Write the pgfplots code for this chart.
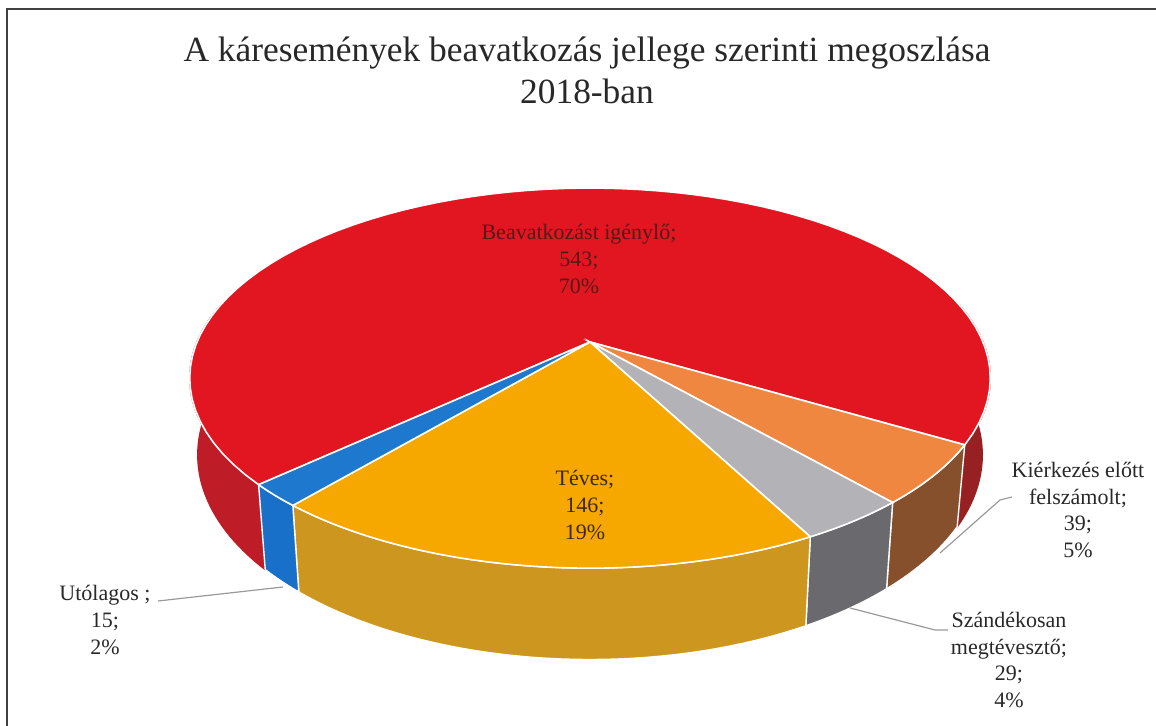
\documentclass[border=0pt]{standalone}
\usepackage{pgfplots}
\pgfplotsset{compat=1.18}
\usepackage{pgfplotstable}
\usepackage{fontspec}
\setmainfont{Liberation Serif}

\definecolor{redtop}{RGB}{226,22,32}
\definecolor{redsideL}{RGB}{190,28,38}
\definecolor{redsideR}{RGB}{150,32,34}
\definecolor{ortop}{RGB}{240,135,65}
\definecolor{orside}{RGB}{135,80,45}
\definecolor{grtop}{RGB}{178,178,183}
\definecolor{grside}{RGB}{105,105,110}
\definecolor{yetop}{RGB}{247,168,0}
\definecolor{yeside}{RGB}{205,150,30}
\definecolor{bltop}{RGB}{30,120,205}
\definecolor{blside}{RGB}{25,112,200}
\definecolor{txtred}{RGB}{85,25,25}
\definecolor{txtye}{RGB}{60,40,15}
\definecolor{txt}{RGB}{40,40,40}

% pie data (clockwise order as drawn)
\pgfplotstableread{
slice value
Beavatkozas 543
Kierkezes 39
Szandekosan 29
Teves 146
Utolagos 15
}\piedata

\pgfplotstablegetelem{0}{value}\of\piedata \edef\vRed{\pgfplotsretval}
\pgfplotstablegetelem{1}{value}\of\piedata \edef\vOr{\pgfplotsretval}
\pgfplotstablegetelem{2}{value}\of\piedata \edef\vGr{\pgfplotsretval}
\pgfplotstablegetelem{3}{value}\of\piedata \edef\vYe{\pgfplotsretval}
\pgfplotstablegetelem{4}{value}\of\piedata \edef\vBl{\pgfplotsretval}
\pgfmathsetmacro\tot{\vRed+\vOr+\vGr+\vYe+\vBl}
\pgfmathsetmacro\aA{30.5}
\pgfmathsetmacro\aB{\aA+360*(\vOr/\tot)}
\pgfmathsetmacro\aC{\aB+360*(\vGr/\tot)}
\pgfmathsetmacro\aD{\aC+360*(\vYe/\tot)}
\pgfmathsetmacro\aE{\aD+360*(\vBl/\tot)}
\pgfmathsetmacro\aF{\aE+360*(\vRed/\tot)}

% side wall of a slice between angles #1 and #2
\newcommand\pieside[4]{%
 \addplot[fill=#3, draw=#4, line width=0.7pt, domain=0:2, samples=81, variable=\s]
 ({(\s<1.0125) ? topx(#1+(#2-#1)*\s) : botx(#2-(#2-#1)*(\s-1.025)/0.975)},
  {(\s<1.0125) ? topy(#1+(#2-#1)*\s) : boty(#2-(#2-#1)*(\s-1.025)/0.975)}) -- cycle;}
% top face of a slice
\newcommand\pietop[3]{%
 \addplot[fill=#3, draw=white, line width=0.8pt, domain=#1:#2, samples=80, variable=\s]
 ({topx(\s)},{topy(\s)}) -- (axis cs:590,342) -- cycle;}

\begin{document}
\begin{tikzpicture}[declare function={
  ww(\t)=1-0.19*sin(\t);
  topx(\t)=590+393*cos(\t)/ww(\t);
  topy(\t)=342+183.2*sin(\t)/ww(\t);
  botx(\t)=590+385.1*cos(\t)/ww(\t);
  boty(\t)=topy(\t)+74/ww(\t);
}]
\begin{axis}[
  width=578pt, height=363pt, scale only axis,
  xmin=0, xmax=1156, ymin=0, ymax=726, y dir=reverse,
  axis lines=none, clip=false,
]
% frame
\addplot[draw=black!75, line width=1.2pt] coordinates {(7,726) (7,9) (1156,9)};

% side walls
\pieside{-12}{\aA}{redsideR}{redsideR}
\pieside{\aE}{192}{redsideL}{redsideL}
\pieside{\aA}{\aB}{orside}{white}
\pieside{\aB}{\aC}{grside}{white}
\pieside{\aC}{\aD}{yeside}{white}
\pieside{\aD}{\aE}{blside}{white}

% top faces
\pietop{\aE}{\aF}{redtop}
\pietop{\aA}{\aB}{ortop}
\pietop{\aB}{\aC}{grtop}
\pietop{\aC}{\aD}{yetop}
\pietop{\aD}{\aE}{bltop}

% leader lines
\addplot[draw=gray!80, line width=0.6pt] coordinates {(158,601) (283,587)};
\addplot[draw=gray!80, line width=0.6pt] coordinates {(1012,497) (1000,500) (940,553)};
\addplot[draw=gray!80, line width=0.6pt] coordinates {(948,630) (935,630) (850,608)};

% title
\node[anchor=base, font=\fontsize{17.7}{21}\selectfont, text=txt] at (axis cs:587,62)
  {A káresemények beavatkozás jellege szerinti megoszlása};
\node[anchor=base, font=\fontsize{17.7}{21}\selectfont, text=txt] at (axis cs:587,104)
  {2018-ban};

% data labels
\node[align=center, font=\fontsize{11}{13.3}\selectfont, text=txtred] at (axis cs:579,259)
  {Beavatkozást igénylő;\\543;\\70\%};
\node[align=center, font=\fontsize{11}{13.3}\selectfont, text=txtye] at (axis cs:585,505)
  {Téves;\\146;\\19\%};
\node[align=center, font=\fontsize{11}{13.3}\selectfont, text=txt] at (axis cs:105,620)
  {Utólagos ;\\15;\\2\%};
\node[align=center, font=\fontsize{11}{13.3}\selectfont, text=txt] at (axis cs:1078,510)
  {Kiérkezés előtt\\felszámolt;\\39;\\5\%};
\node[align=center, font=\fontsize{11}{13.3}\selectfont, text=txt] at (axis cs:1009,660)
  {Szándékosan\\megtévesztő;\\29;\\4\%};
\end{axis}
\pgfresetboundingbox
\path[use as bounding box] (current axis.south west) rectangle (current axis.north east);
\end{tikzpicture}
\end{document}
